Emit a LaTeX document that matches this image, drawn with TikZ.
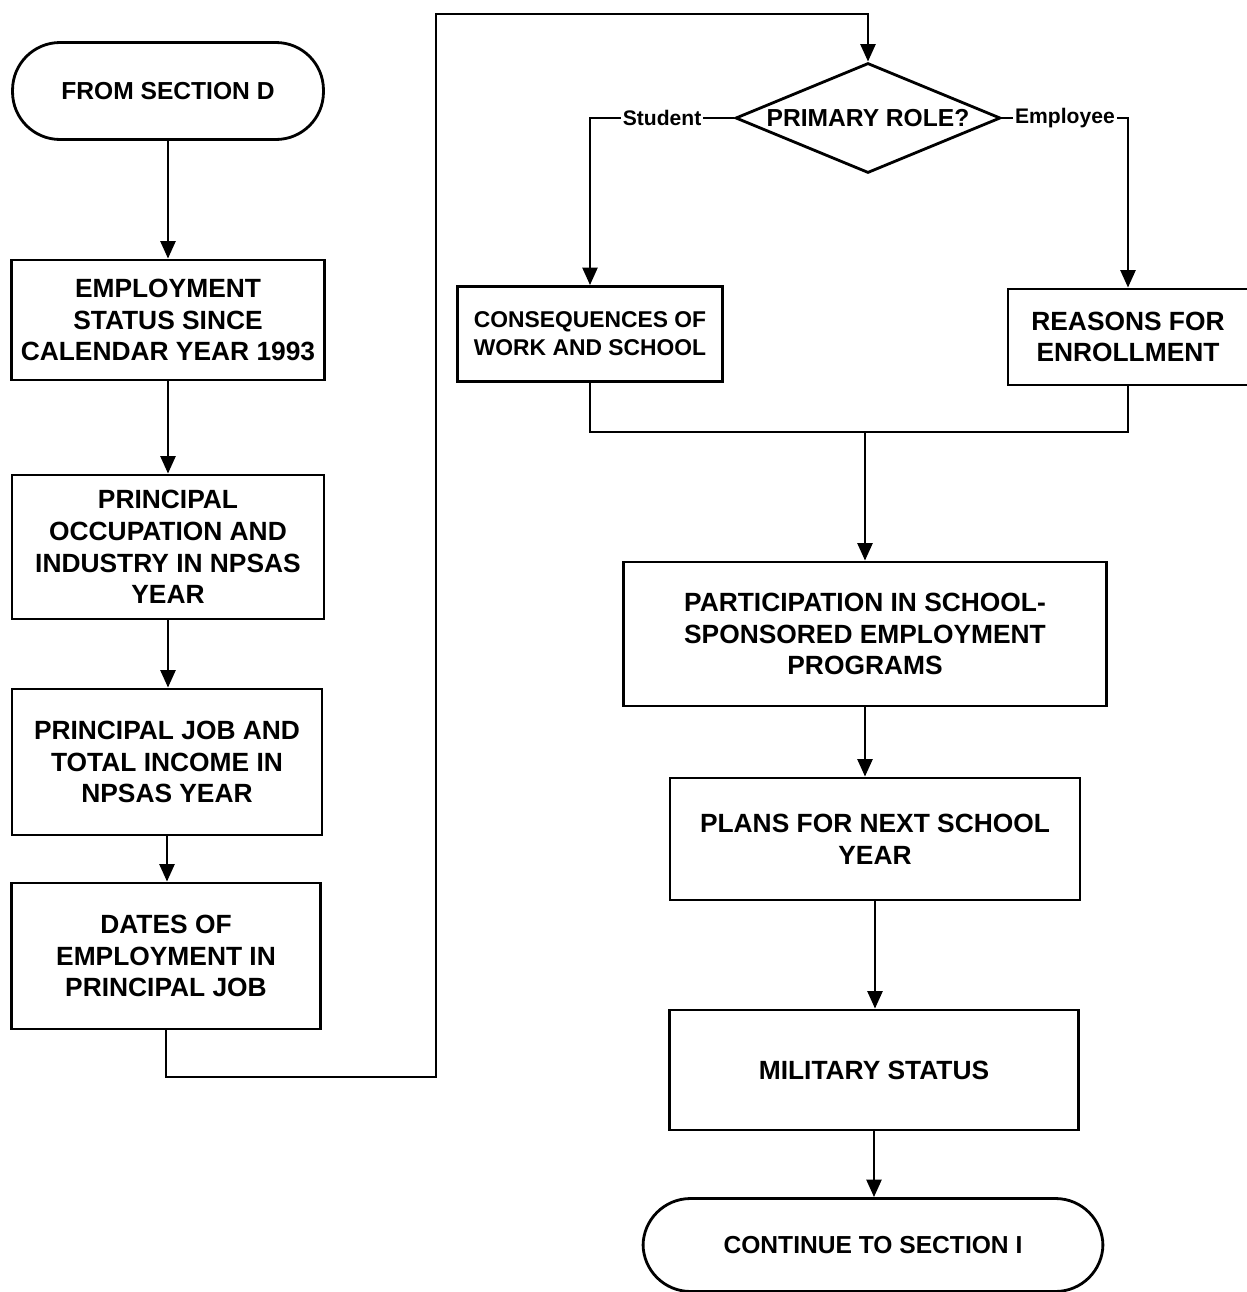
\documentclass[tikz,border=0pt]{standalone}
\usepackage{fontspec}
\setmainfont{Liberation Sans}
\usetikzlibrary{arrows.meta,shapes.geometric}

\begin{document}
\begin{tikzpicture}[
    x=0.02cm, y=-0.02cm,
    box/.style={rectangle, draw, line width=1.6pt, align=center,
        font=\fontsize{15}{18}\selectfont\bfseries, inner sep=0pt},
    terminal/.style={box, rounded corners=0.95cm, font=\fontsize{14}{18}\selectfont\bfseries},
    decision/.style={diamond, draw, line width=1.6pt, aspect=2.4, inner sep=0pt,
        minimum width=5.3cm, minimum height=2.2cm, font=\fontsize{14}{18}\selectfont\bfseries},
    lbl/.style={fill=white, inner sep=1pt, font=\fontsize{12}{14}\selectfont\bfseries},
    line/.style={line width=1.6pt},
    arrow/.style={line, -{Triangle[length=10pt,width=8.5pt]}}
]
\useasboundingbox (0,0) rectangle (1247,1292);

% left column
\node[terminal, minimum width=6.22cm, minimum height=1.94cm] (start) at (168,91) {FROM SECTION D};
\node[box, minimum width=6.26cm, minimum height=2.4cm] (emp) at (168,320) {EMPLOYMENT\\STATUS SINCE\\CALENDAR YEAR 1993};
\node[box, minimum width=6.24cm, minimum height=2.88cm] (occ) at (168,547) {PRINCIPAL\\OCCUPATION AND\\INDUSTRY IN NPSAS\\YEAR};
\node[box, minimum width=6.2cm, minimum height=2.92cm] (job) at (167,762) {PRINCIPAL JOB AND\\TOTAL INCOME IN\\NPSAS YEAR};
\node[box, minimum width=6.18cm, minimum height=2.92cm] (dates) at (166,956) {DATES OF\\EMPLOYMENT IN\\PRINCIPAL JOB};

% right column
\node[decision] (role) at (868,118) {PRIMARY ROLE?};
\node[box, minimum width=5.3cm, minimum height=1.9cm, font=\fontsize{13}{16}\selectfont\bfseries] (cons) at (590,334) {CONSEQUENCES OF\\WORK AND SCHOOL};
\node[box, minimum width=4.8cm, minimum height=1.92cm] (reasons) at (1128,337) {REASONS FOR\\ENROLLMENT};
\node[box, minimum width=9.66cm, minimum height=2.88cm] (part) at (865,634) {PARTICIPATION IN SCHOOL-\\SPONSORED EMPLOYMENT\\PROGRAMS};
\node[box, minimum width=8.2cm, minimum height=2.44cm] (plans) at (875,839) {PLANS FOR NEXT SCHOOL\\YEAR};
\node[box, minimum width=8.18cm, minimum height=2.4cm] (military) at (874,1070) {MILITARY STATUS};
\node[terminal, minimum width=9.2cm, minimum height=1.86cm] (cont) at (873,1245) {CONTINUE TO SECTION I};

\coordinate (loopbot) at (436,1077);
\coordinate (looptop) at (436,14);
\coordinate (merge) at (865,432);

\draw[arrow] (start) -- (emp);
\draw[arrow] (emp) -- (occ);
\draw[arrow] (occ.south) -- (occ.south |- job.north);
\draw[arrow] (job.south) -- (job.south |- dates.north);
\draw[arrow] (dates.south) |- (loopbot) -- (looptop) -| (role.north);

\draw[arrow] (role.west) -| node[lbl, pos=0.25] {Student} (cons.north);
\draw[arrow] (role.east) -| node[lbl, pos=0.25] {Employee} (reasons.north);
\draw[line] (cons.south) |- (merge) -| (reasons.south);
\draw[arrow] (merge) -- (part.north);
\draw[arrow] (part.south) -- (part.south |- plans.north);
\draw[arrow] (plans.south) -- (plans.south |- military.north);
\draw[arrow] (military.south) -- (military.south |- cont.north);

\end{tikzpicture}
\end{document}
